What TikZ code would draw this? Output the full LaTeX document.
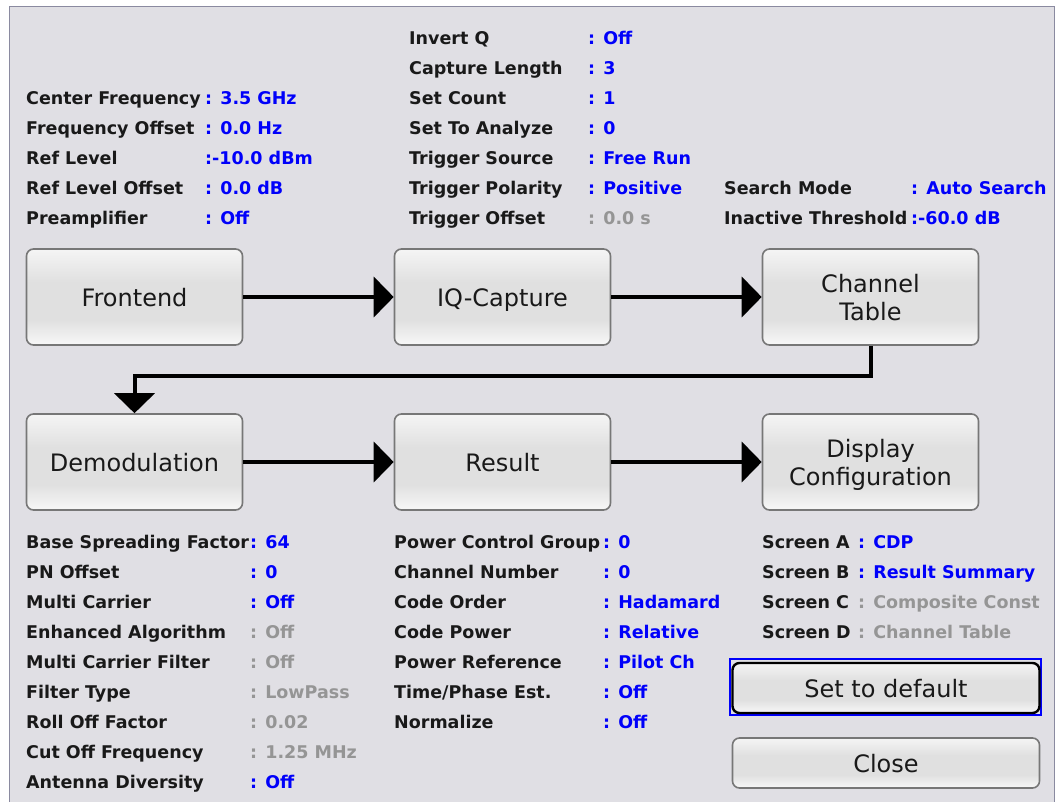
\documentclass[tikz,border=0pt]{standalone}
\usepackage{fontspec}
\setmainfont{DejaVu Sans}
\usetikzlibrary{arrows.meta}
\definecolor{panel}{HTML}{E0DFE4}
\definecolor{framec}{HTML}{8A8AA0}
\definecolor{valblue}{HTML}{0000FA}
\definecolor{valgrey}{HTML}{959595}
\definecolor{edgec}{HTML}{777777}
\pgfdeclareverticalshading{btnshade}{100bp}{color(0bp)=(white!97!black); color(25bp)=(white!97!black); color(38bp)=(black!12); color(58bp)=(black!12); color(75bp)=(white!96!black); color(100bp)=(white!96!black)}
\newcommand{\fsz}{\fontsize{17.5}{20}\bfseries\selectfont}
\newcommand{\twolines}[2]{\raisebox{-0.7pt}[0pt][0pt]{\begin{tabular}{@{}c@{}}#1\\#2\end{tabular}}}
\tikzset{
  x=1pt,y=-1pt,
  lab/.style={anchor=base west,inner sep=0pt,font=\fsz,text=black!90},
  val/.style={lab,text=valblue},
  dis/.style={lab,text=valgrey},
  blockbox/.style={draw=edgec,line width=1.6pt,rounded corners=7pt,shading=btnshade,
    minimum width=216pt,minimum height=96pt,inner sep=0pt,align=center,font=\fontsize{24}{28.5}\selectfont,text=black!90,
    execute at begin node={\rule{0pt}{25pt}},execute at end node={\rule[-6pt]{0pt}{6pt}}},
  btn/.style={blockbox,minimum width=307pt,minimum height=50pt},
  flow/.style={line width=4pt,black,-{Triangle[length=20pt,width=40pt]},shorten >=0pt},
}
\newcommand{\kv}[6][val]{% style, name, x, y, label, colon x => value follows
  \node[lab] (l#2) at (#3,#4+7) {#5};
  \node[#1] (v#2) at (#6,#4+7) }
\begin{document}
\begin{tikzpicture}
\useasboundingbox (0,0) rectangle (1056,802);
\fill[white] (0,0) rectangle (1056,802);
\draw[framec,line width=1.6pt,fill=panel] (9.5,6.5) -- (1054.5,6.5) -- (1054.5,803) -- (9.5,803) -- cycle;

% top left
\kv{a}{26}{98}{Center Frequency}{205}{: 3.5 GHz};
\kv{b}{26}{128}{Frequency Offset}{205}{: 0.0 Hz};
\kv{c}{26}{158}{Ref Level}{205}{:-10.0 dBm};
\kv{d}{26}{188}{Ref Level Offset}{205}{: 0.0 dB};
\kv{e}{26}{218}{Preamplifier}{205}{: Off};
% top middle
\kv{f}{409}{38}{Invert Q}{588}{: Off};
\kv{g}{409}{68}{Capture Length}{588}{: 3};
\kv{h}{409}{98}{Set Count}{588}{: 1};
\kv{i}{409}{128}{Set To Analyze}{588}{: 0};
\kv{j}{409}{158}{Trigger Source}{588}{: Free Run};
\kv{k}{409}{188}{Trigger Polarity}{588}{: Positive};
\kv[dis]{l}{409}{218}{Trigger Offset}{588}{: 0.0 s};
% top right
\kv{m}{724}{188}{Search Mode}{911}{: Auto Search};
\kv{n}{724}{218}{Inactive Threshold}{911}{:-60.0 dB};

% blocks
\node[blockbox] (fe) at (134.5,297) {Frontend};
\node[blockbox] (iq) at (502.5,297) {IQ-Capture};
\node[blockbox] (ct) at (870.5,297) {\twolines{Channel}{Table}};
\node[blockbox] (dm) at (134.5,462) {Demodulation};
\node[blockbox] (rs) at (502.5,462) {Result};
\node[blockbox] (dc) at (870.5,462) {\twolines{Display}{Configuration}};
\draw[flow] (fe) -- (iq);
\draw[flow] (iq) -- (ct);
\draw[flow] (dm) -- (rs);
\draw[flow] (rs) -- (dc);
\draw[flow,rounded corners=0pt] (ct.south) -- (ct.south |- 0,376) -- (dm.north |- 0,376) -- (dm.north);

% bottom left
\kv{o}{26}{541}{Base Spreading Factor}{250}{: 64};
\kv{p}{26}{571}{PN Offset}{250}{: 0};
\kv{q}{26}{601}{Multi Carrier}{250}{: Off};
\kv[dis]{r}{26}{631}{Enhanced Algorithm}{250}{: Off};
\kv[dis]{s}{26}{661}{Multi Carrier Filter}{250}{: Off};
\kv[dis]{t}{26}{691}{Filter Type}{250}{: LowPass};
\kv[dis]{u}{26}{721}{Roll Off Factor}{250}{: 0.02};
\kv[dis]{w}{26}{751}{Cut Off Frequency}{250}{: 1.25 MHz};
\kv{z}{26}{781}{Antenna Diversity}{250}{: Off};
% bottom middle
\kv{aa}{394}{541}{Power Control Group}{603}{: 0};
\kv{ab}{394}{571}{Channel Number}{603}{: 0};
\kv{ac}{394}{601}{Code Order}{603}{: Hadamard};
\kv{ad}{394}{631}{Code Power}{603}{: Relative};
\kv{ae}{394}{661}{Power Reference}{603}{: Pilot Ch};
\kv{af}{394}{691}{Time/Phase Est.}{603}{: Off};
\kv{ag}{394}{721}{Normalize}{603}{: Off};
% bottom right
\kv{ah}{762}{541}{Screen A}{858}{: CDP};
\kv{ai}{762}{571}{Screen B}{858}{: Result Summary};
\kv[dis]{aj}{762}{601}{Screen C}{858}{: Composite Const};
\kv[dis]{ak}{762}{631}{Screen D}{858}{: Channel Table};

% buttons
\draw[valblue,line width=2pt] (730,659) rectangle (1041,715);
\node[btn,draw=black,line width=2.4pt] (sd) at (886,688) {Set to default};
\node[btn] (cl) at (886,763) {Close};
\end{tikzpicture}
\end{document}
